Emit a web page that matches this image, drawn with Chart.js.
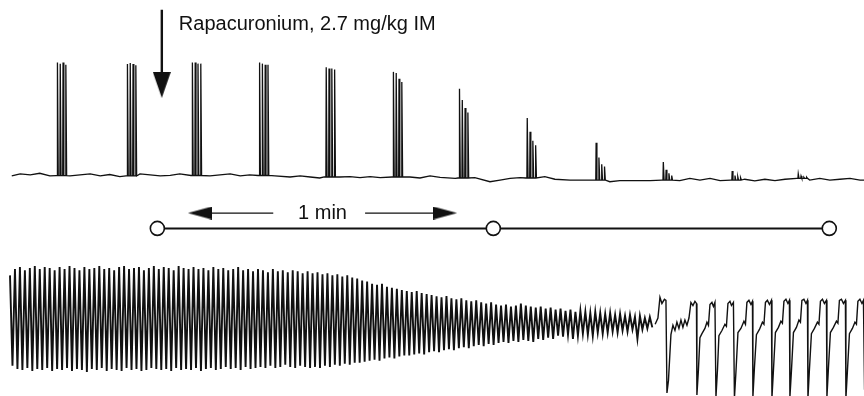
<!DOCTYPE html>
<html>
<head>
<meta charset="utf-8">
<script src="https://cdn.jsdelivr.net/npm/chart.js@4.4.1/dist/chart.umd.min.js"></script>
<style>
  html, body { margin: 0; padding: 0; background: #fff; }
  canvas { display: block; }
</style>
</head>
<body>
<canvas id="trace" width="864" height="396"></canvas>
<script>
// train-of-four, start of each train (s)
const tofStart = [10.2, 22.7, 34.3, 46.3, 58.2, 70.2, 82.0, 94.1, 106.4, 118.4, 130.7, 142.5];
// T1..T4 of each train, % of control
const tofHeight = [
    [100, 99, 100, 98],
    [99, 100, 99, 98],
    [100, 100, 99, 99],
    [100, 99, 98, 98],
    [97, 96, 96, 95],
    [93, 92, 87, 84],
    [79, 69, 62, 58],
    [53, 41, 33, 29],
    [33, 20, 14, 12],
    [16, 9, 6, 4],
    [8, 4, 3, 2],
    [4, 2, 1, 1]
];
const tofGap = 0.5; // 2 Hz

// top trace baseline between trains
const baseT = [
    2.1, 3.6, 5.4, 7.1, 8.9, 10.0,
    12.5, 14.3, 16.1, 17.9, 19.6, 21.4, 22.5,
    25.0, 26.8, 28.6, 30.4, 32.1, 34.1,
    37.5, 39.3, 41.1, 42.9, 44.6, 46.1,
    49.1, 51.8, 53.6, 55.4, 57.1, 57.9,
    60.7, 62.5, 64.3, 66.1, 67.9, 70.0,
    73.2, 75.0, 76.8, 78.6, 81.3, 81.8,
    84.8, 87.5, 89.3, 91.1, 92.9, 93.9,
    97.3, 99.1, 101.8, 105.4, 106.1,
    108.9, 110.7, 114.3, 116.1, 118.2,
    121.4, 123.2, 125.0, 126.8, 128.6, 130.5,
    133.0, 134.8, 136.6, 138.4, 140.2, 142.3,
    144.6, 146.4, 148.2, 150.0, 151.8, 153.6, 154.3
];
const baseV = [
    0.9, 2.7, 1.8, 3.3, 0.9, 1.2,
    0.9, 1.8, 2.7, 0.9, 2.2, 0.3, 0.9,
    2.7, 1.8, 0.9, 1.5, 2.7, 1.3,
    0.9, 1.8, 2.7, 0.9, 1.8, 1.3,
    0.9, 0, 0.9, 0, -0.9, 0,
    0, 0.3, -0.6, 0.3, -0.6, 0,
    0, -0.9, 0.9, -0.3, -1.2, -0.9,
    -0.6, -4.2, -2.7, -1.2, -0.6, -0.9,
    0.3, -2.0, -2.7, -2.7, -2.7,
    -4.2, -3.3, -3.3, -3.3, -2.7,
    -3.3, -1.2, -2.7, -1.2, -3.3, -2.7,
    -2.0, -3.5, -2.0, -3.3, -2.0, -1.2,
    -2.7, -1.2, -2.7, -2.0, -1.2, -2.7, -2.7
];

// lower trace, 1 Hz twitch: peak and trough of each cycle
const twitchPeak = [
    91, 97, 99, 96, 98, 100, 97, 99, 98, 96,
    99, 97, 100, 98, 96, 99, 97, 98, 100, 97,
    98, 96, 99, 100, 97, 98, 99, 96, 98, 100,
    97, 99, 98, 96, 100, 98, 97, 99, 97, 98,
    96, 99, 97, 98, 96, 97, 99, 96, 97, 95,
    97, 96, 94, 97, 95, 96, 94, 96, 95, 93,
    95, 93, 94, 92, 93, 91, 92, 90, 91, 89,
    88, 86, 85, 83, 82, 83, 80, 79, 78, 77,
    76, 75, 76, 74, 73, 72, 71, 70, 71, 69,
    68, 69, 67, 66, 67, 65, 64, 65, 63, 62,
    63, 61, 62, 64, 62, 61, 60, 61, 59, 60,
    58, 59, 57, 58, 56, 57, 56, 55, 56, 55,
    54, 55, 53, 54, 52, 53, 51, 52, 50, 51
];
const twitchTrough = [
    4, 1, 0, 2, -1, 1, 0, 2, -1, 1,
    0, 2, -1, 1, 0, -2, 1, 0, 2, -1,
    1, 0, -1, 2, 0, 1, -1, 0, 2, 1,
    0, 1, -1, 2, 0, 1, 0, 2, -1, 1,
    2, 0, 1, 3, 1, 2, 0, 3, 1, 2,
    3, 2, 4, 2, 3, 5, 3, 2, 4, 3,
    2, 3, 2, 4, 3, 5, 4, 6, 5, 7,
    7, 8, 9, 10, 9, 11, 12, 11, 13, 14,
    14, 15, 16, 15, 17, 18, 17, 19, 20, 19,
    21, 22, 21, 23, 24, 23, 25, 24, 26, 27,
    26, 28, 27, 29, 28, 27, 30, 29, 31, 30,
    33, 32, 34, 30, 33, 35, 34, 33, 36, 35,
    36, 37, 36, 38, 37, 39, 30, 39, 40, 41
];

// lower trace after paralysis: breathing (time s, level)
const breathT = [
    117.0, 117.5, 117.86, 118.21, 118.66, 118.93, 119.11, 119.38, 119.82, 120.18, 120.54, 120.89,
    121.25, 121.61, 121.96, 122.32, 122.68, 123.04, 123.39, 123.75, 124.11, 124.38, 124.46,
    124.73, 125.0, 125.36, 125.89, 126.25, 126.52, 126.79, 127.14, 127.41, 127.68, 127.86,
    128.13, 128.39, 128.93, 129.46, 129.73, 130.0, 130.36, 130.63, 130.98, 131.16,
    131.43, 131.79, 132.32, 132.86, 133.13, 133.39, 133.75, 134.11, 134.38, 134.46,
    134.73, 135.09, 135.63, 136.16, 136.43, 136.70, 137.05, 137.41, 137.77, 137.86,
    138.13, 138.48, 139.02, 139.46, 139.73, 140.0, 140.36, 140.71, 140.98, 141.07,
    141.34, 141.70, 142.23, 142.68, 142.95, 143.21, 143.57, 143.93, 144.20, 144.29,
    144.55, 144.91, 145.45, 145.98, 146.25, 146.52, 146.88, 147.23, 147.59, 147.68,
    147.95, 148.30, 148.84, 149.38, 149.64, 149.91, 150.27, 150.63, 150.98, 151.07,
    151.34, 151.70, 152.23, 152.68, 152.95, 153.21, 153.57, 153.93, 154.20, 154.4
];
const breathV = [
    44, 50, 70, 64, 68, 67, -22, -10, 34, 43, 38, 46,
    40, 48, 41, 48, 43, 50, 65, 62, 66, 64, -24,
    0, 31, 35, 40, 46, 43, 63, 65, 61, 65, -26,
    0, 33, 38, 44, 42, 64, 66, 62, 65, -27,
    -2, 36, 40, 47, 44, 65, 67, 63, 66, -26,
    2, 34, 39, 46, 44, 65, 67, 63, 67, -27,
    0, 36, 41, 47, 45, 66, 68, 64, 67, -26,
    -1, 36, 41, 48, 46, 67, 68, 64, 67, -27,
    0, 35, 40, 46, 44, 66, 68, 64, 67, -26,
    2, 36, 41, 47, 45, 67, 68, 64, 67, -27,
    -1, 35, 40, 46, 44, 66, 68, 64, 67, -19
];

// time marks (s) and injection
const minuteMarks = [28.1, 88.1, 148.1];
const minArrowLeft = [48.8, 35.7];
const minArrowRight = [65.2, 79.5];
const injectionT = 28.9;
const drugLabel = 'Rapacuronium, 2.7 mg/kg IM';
const scaleLabel = '1 min';

const ink = '#111';

// merge baseline and trains into one pen trace
const topTrace = [];
let bi = 0, level = baseV[0];
tofStart.forEach((t0, k) => {
    while (bi < baseT.length && baseT[bi] < t0) {
        level = baseV[bi];
        topTrace.push({ x: baseT[bi], y: level });
        bi++;
    }
    tofHeight[k].forEach((h, j) => {
        const t = t0 + j * tofGap;
        topTrace.push({ x: t, y: level }, { x: t + 0.06, y: level + h }, { x: t + 0.2, y: level });
    });
});
for (; bi < baseT.length; bi++) topTrace.push({ x: baseT[bi], y: baseV[bi] });

const twitchTrace = [];
twitchPeak.forEach((p, i) => {
    twitchTrace.push({ x: i, y: p }, { x: i + 0.5, y: twitchTrough[i] });
});
const breathTrace = breathT.map((t, i) => ({ x: t, y: breathV[i] }));

function arrowHead(w, h) {
    const c = document.createElement('canvas');
    c.width = w;
    c.height = h;
    const g = c.getContext('2d');
    g.fillStyle = ink;
    g.beginPath();
    g.moveTo(w / 2, 0);
    g.lineTo(w, h);
    g.lineTo(0, h);
    g.closePath();
    g.fill();
    return c;
}
const bigHead = arrowHead(18, 26);
const smallHead = arrowHead(13, 24);

function arrow(data, head, rot, width) {
    return {
        data: data,
        borderColor: ink,
        borderWidth: width,
        pointRadius: data.map((d, i) => i === data.length - 1 ? 5 : 0),
        pointStyle: data.map((d, i) => i === data.length - 1 ? head : 'circle'),
        pointRotation: rot,
        xAxisID: 'x',
        yAxisID: 'yTop'
    };
}

const textLabels = {
    id: 'textLabels',
    afterDatasetsDraw(chart) {
        const { ctx, scales } = chart;
        ctx.save();
        ctx.fillStyle = ink;
        ctx.font = '20px "Liberation Sans", Arial, sans-serif';
        ctx.textBaseline = 'alphabetic';
        ctx.fillText(drugLabel, scales.x.getPixelForValue(injectionT) + 17, scales.yTop.getPixelForValue(130));
        ctx.textAlign = 'center';
        ctx.textBaseline = 'middle';
        const mid = (minArrowLeft[1] + minArrowRight[1]) / 2;
        ctx.fillText(scaleLabel, scales.x.getPixelForValue(mid), scales.yTop.getPixelForValue(-31.9));
        ctx.restore();
    }
};

new Chart(document.getElementById('trace'), {
    type: 'line',
    data: {
        datasets: [
            {
                data: topTrace,
                borderColor: ink,
                borderWidth: 1.3,
                pointRadius: 0,
                xAxisID: 'x',
                yAxisID: 'yTop'
            },
            {
                data: twitchTrace,
                borderColor: ink,
                borderWidth: 1.9,
                pointRadius: 0,
                xAxisID: 'xTw',
                yAxisID: 'yBot'
            },
            {
                data: breathTrace,
                borderColor: ink,
                borderWidth: 1.4,
                pointRadius: 0,
                xAxisID: 'x',
                yAxisID: 'yBot'
            },
            {
                data: minuteMarks.map(t => ({ x: t, y: -45.5 })),
                borderColor: ink,
                borderWidth: 2,
                pointRadius: 7,
                pointBackgroundColor: '#fff',
                pointBorderColor: ink,
                pointBorderWidth: 1.6,
                xAxisID: 'x',
                yAxisID: 'yTop'
            },
            arrow([{ x: injectionT, y: 148 }, { x: injectionT, y: 81.4 }], bigHead, 180, 2.4),
            arrow(minArrowLeft.map(t => ({ x: t, y: -31.9 })), smallHead, -90, 1.3),
            arrow(minArrowRight.map(t => ({ x: t, y: -31.9 })), smallHead, 90, 1.3)
        ]
    },
    options: {
        responsive: false,
        animation: false,
        layout: { padding: 0, autoPadding: false },
        plugins: { legend: { display: false }, tooltip: { enabled: false } },
        elements: { line: { tension: 0 } },
        scales: {
            x: { type: 'linear', min: 0, max: 154.3, display: false },
            xTw: { type: 'linear', min: -2.016, max: 172.18, display: false },
            yTop: { type: 'linear', min: -193.8, max: 156.6, display: false },
            yBot: { type: 'linear', min: -25, max: 355.8, display: false }
        }
    },
    plugins: [textLabels]
});
</script>
</body>
</html>
